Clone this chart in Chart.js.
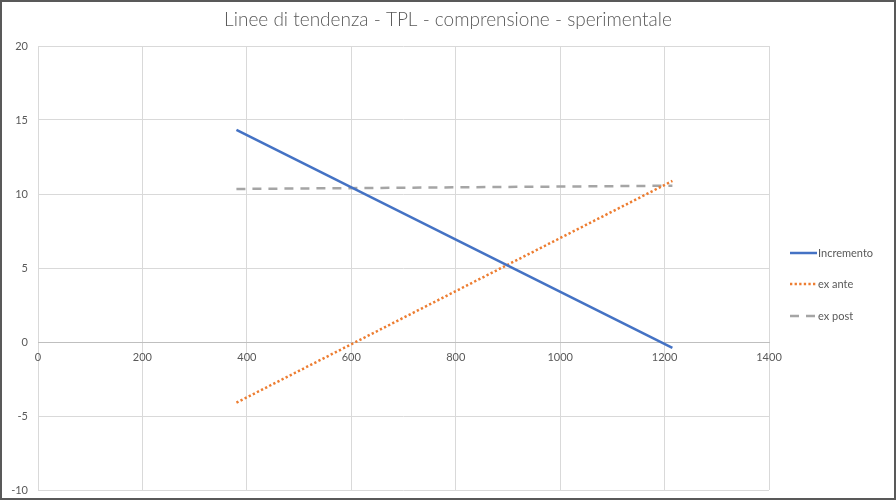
<!DOCTYPE html>
<html>
<head>
<meta charset="utf-8">
<script src="https://cdn.jsdelivr.net/npm/chart.js@4.4.1/dist/chart.umd.min.js"></script>
<style>
  html, body { margin: 0; padding: 0; background: #fff; }
  #wrap { width: 896px; height: 500px; }
</style>
</head>
<body>
<div id="wrap"><canvas id="trendChart"></canvas></div>
<script>
  // data
  const xStartEnd = [380, 1215];
  const incremento = [14.34, -0.39];
  const exAnte = [-4.1, 10.88];
  const exPost = [10.34, 10.56];
  const seriesNames = ["Incremento", "ex ante", "ex post"];
  const xTicks = [0, 200, 400, 600, 800, 1000, 1200, 1400];
  const yTicks = [-10, -5, 0, 5, 10, 15, 20];

  const textColor = "#595959";
  const gridColor = "#d9d9d9";

  function pts(ys) {
    return xStartEnd.map((x, i) => ({ x: x, y: ys[i] }));
  }

  // legend on the right, excel style
  const sideLegend = {
    id: "sideLegend",
    afterDraw(chart) {
      const ctx = chart.ctx;
      const rows = [253, 284, 316];
      ctx.save();
      chart.data.datasets.forEach((ds, i) => {
        const y = rows[i];
        ctx.strokeStyle = ds.borderColor;
        ctx.lineWidth = ds.borderWidth;
        ctx.setLineDash(ds.borderDash || []);
        ctx.beginPath();
        ctx.moveTo(790, y);
        ctx.lineTo(817, y);
        ctx.stroke();
        ctx.setLineDash([]);
        ctx.fillStyle = textColor;
        ctx.font = "11px Lato";
        ctx.textBaseline = "middle";
        ctx.fillText(ds.label, 818, y);
      });
      // outer frame
      ctx.strokeStyle = "#595959";
      ctx.lineWidth = 2;
      ctx.strokeRect(1, 1, 894, 498);
      ctx.restore();
    }
  };

  new Chart(document.getElementById("trendChart"), {
    type: "scatter",
    data: {
      datasets: [{
        label: seriesNames[0],
        data: pts(incremento),
        showLine: true,
        borderColor: "#4472C4",
        borderWidth: 2.5,
        pointRadius: 0
      }, {
        label: seriesNames[1],
        data: pts(exAnte),
        showLine: true,
        borderColor: "#ED7D31",
        borderWidth: 2.5,
        borderDash: [2.3, 2.3],
        pointRadius: 0
      }, {
        label: seriesNames[2],
        data: pts(exPost),
        showLine: true,
        borderColor: "#A5A5A5",
        borderWidth: 2.5,
        borderDash: [9, 7],
        pointRadius: 0
      }]
    },
    options: {
      responsive: true,
      maintainAspectRatio: false,
      animation: false,
      layout: { padding: { left: 0, top: 0, right: 0, bottom: 10 } },
      plugins: {
        legend: { display: false },
        tooltip: { enabled: false },
        title: {
          display: true,
          text: "Linee di tendenza - TPL - comprensione - sperimentale",
          color: textColor,
          font: { family: "Lato", size: 19, weight: 300, lineHeight: 1.2 },
          padding: { top: 8, bottom: 15.2 }
        }
      },
      scales: {
        x: {
          type: "linear",
          position: { y: 0 },
          min: 0,
          max: 1400,
          afterBuildTicks: (s) => { s.ticks = xTicks.map(v => ({ value: v })); },
          afterFit: (s) => { s.height = 0; s.paddingLeft = 0; s.paddingRight = 0; },
          ticks: { color: textColor, font: { family: "Lato", size: 11 }, padding: 9, callback: (v) => String(v) },
          grid: { color: gridColor, drawTicks: false },
          border: { color: "#bfbfbf" }
        },
        y: {
          type: "linear",
          min: -10,
          max: 20,
          afterBuildTicks: (s) => { s.ticks = yTicks.map(v => ({ value: v })); },
          afterFit: (s) => { s.width = 38; s.paddingTop = 0; s.paddingBottom = 0; },
          ticks: { color: textColor, font: { family: "Lato", size: 11 }, padding: 10 },
          grid: { color: gridColor, drawTicks: false },
          border: { display: false }
        },
        // empty right gutter that holds the legend
        gutter: {
          type: "linear",
          position: "right",
          afterFit: (s) => { s.width = 127; s.paddingTop = 0; s.paddingBottom = 0; },
          ticks: { display: false },
          grid: { display: false, drawTicks: false },
          border: { display: false }
        }
      }
    },
    plugins: [sideLegend]
  });
</script>
</body>
</html>
